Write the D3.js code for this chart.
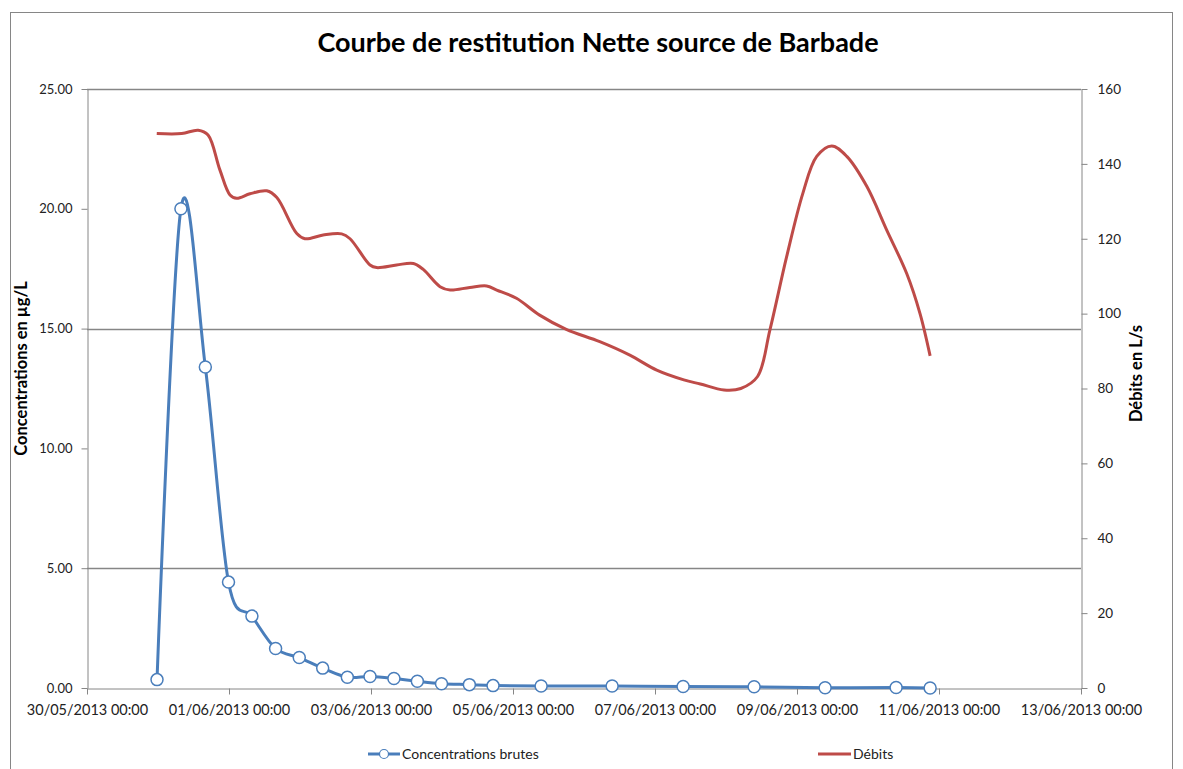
<!DOCTYPE html>
<html>
<head>
<meta charset="utf-8">
<script src="https://cdn.jsdelivr.net/npm/d3@7"></script>
<style>
  body { margin: 0; background: #fff; }
  text { font-family: Lato, "Open Sans", sans-serif; }
</style>
</head>
<body>
<svg width="1183" height="769"></svg>
<script>
const concDates = ['2013-05-30T23:40', '2013-05-31T07:45', '2013-05-31T16:00', '2013-05-31T23:50',
  '2013-06-01T07:45', '2013-06-01T15:45', '2013-06-01T23:45', '2013-06-02T07:40', '2013-06-02T16:00',
  '2013-06-02T23:40', '2013-06-03T07:45', '2013-06-03T15:40', '2013-06-03T23:50', '2013-06-04T09:15',
  '2013-06-04T17:15', '2013-06-05T09:30', '2013-06-06T09:30', '2013-06-07T09:30', '2013-06-08T09:30',
  '2013-06-09T09:30', '2013-06-10T09:30', '2013-06-10T21:00']
const concValues = [0.35, 20.0, 13.4, 4.42, 3.0, 1.65, 1.27, 0.83, 0.45, 0.48, 0.40, 0.28, 0.18, 0.14,
  0.10, 0.08, 0.08, 0.06, 0.05, 0.01, 0.02, 0.0]

const debitDates = ['2013-05-30T23:35', '2013-05-31T08:00', '2013-05-31T13:35', '2013-05-31T16:55',
  '2013-05-31T20:55', '2013-06-01T00:20', '2013-06-01T02:35', '2013-06-01T07:05', '2013-06-01T12:45',
  '2013-06-01T16:10', '2013-06-01T22:55', '2013-06-02T01:40', '2013-06-02T07:50', '2013-06-02T14:05',
  '2013-06-02T16:55', '2013-06-02T23:40', '2013-06-03T01:55', '2013-06-03T08:40', '2013-06-03T14:20',
  '2013-06-03T17:40', '2013-06-03T23:20', '2013-06-04T02:45', '2013-06-04T09:25', '2013-06-04T15:05',
  '2013-06-04T18:30', '2013-06-05T01:10', '2013-06-05T09:00', '2013-06-05T18:00', '2013-06-06T05:20',
  '2013-06-06T15:30', '2013-06-07T00:35', '2013-06-07T09:45', '2013-06-07T15:20', '2013-06-07T23:20',
  '2013-06-08T05:00', '2013-06-08T10:40', '2013-06-08T14:50', '2013-06-08T20:30', '2013-06-09T02:00',
  '2013-06-09T06:40', '2013-06-09T11:45', '2013-06-09T16:50', '2013-06-09T23:35', '2013-06-10T06:20',
  '2013-06-10T13:05', '2013-06-10T17:35', '2013-06-10T21:00']
const debitValues = [148.1, 148.1, 149.0, 147.7, 138.4, 131.7, 130.8, 132.0, 132.8, 131.0,
  121.4, 120.0, 121.0, 121.3, 120.0, 113.0, 112.3, 113.0, 113.4, 111.8,
  107.2, 106.3, 107.0, 107.4, 106.3, 104.1, 99.6, 95.8, 92.5, 88.9,
  84.9, 82.3, 81.2, 79.6, 80.0, 83.2, 95.6, 115.2, 132.2,
  142.0, 144.8, 142.0, 134.0, 122.3, 110.7, 100.0, 88.7]

const xTickDates = ['2013-05-30', '2013-06-01', '2013-06-03', '2013-06-05', '2013-06-07',
  '2013-06-09', '2013-06-11', '2013-06-13']
const leftTicks = [0, 5, 10, 15, 20, 25]
const rightTicks = [0, 20, 40, 60, 80, 100, 120, 140, 160]
const gridValues = [5, 15, 25]

const parse = d3.utcParse('%Y-%m-%dT%H:%M')
const parseDay = d3.utcParse('%Y-%m-%d')

const svg = d3.select('svg')
const axisColor = '#868686'
const blue = '#4A7EBB'
const red = '#BE4B48'

const plotLeft = 87, plotRight = 1081, plotTop = 89, plotBottom = 688

const x = d3.scaleUtc()
  .domain([parseDay('2013-05-30'), parseDay('2013-06-13')])
  .range([plotLeft, plotRight])
const yL = d3.scaleLinear().domain([0, 25]).range([plotBottom, plotTop])
const yR = d3.scaleLinear().domain([0, 160]).range([plotBottom, plotTop])

// chart border
svg.append('rect')
  .attr('x', 10.5).attr('y', 12.5)
  .attr('width', 1162).attr('height', 780)
  .attr('fill', 'none')
  .attr('stroke', axisColor)

// title
svg.append('text')
  .attr('x', 598).attr('y', 52)
  .attr('text-anchor', 'middle')
  .attr('font-size', 27).attr('font-weight', 'bold')
  .attr('fill', '#000')
  .text('Courbe de restitution Nette source de Barbade')

// gridlines
svg.append('g').selectAll('line')
  .data(gridValues)
  .join('line')
  .attr('x1', plotLeft).attr('x2', plotRight)
  .attr('y1', d => Math.round(yL(d)) + 0.5).attr('y2', d => Math.round(yL(d)) + 0.5)
  .attr('stroke', axisColor).attr('stroke-width', 1.3)

// axes
const styleAxis = (g, size) => {
  g.select('.domain').attr('stroke', axisColor)
  g.selectAll('.tick line').attr('stroke', axisColor)
  g.selectAll('.tick text').attr('fill', '#222').attr('font-size', size)
    .attr('font-family', 'Lato, "Open Sans", sans-serif')
}

svg.append('g')
  .attr('transform', `translate(${plotLeft + 0.5},0)`)
  .call(d3.axisLeft(yL).tickValues(leftTicks).tickFormat(d3.format('.2f')).tickSize(6).tickSizeOuter(0).tickPadding(9))
  .call(styleAxis, 13)

svg.append('g')
  .attr('transform', `translate(${plotRight + 0.5},0)`)
  .call(d3.axisRight(yR).tickValues(rightTicks).tickSize(6).tickSizeOuter(0).tickPadding(10))
  .call(styleAxis, 13.5)

svg.append('g')
  .attr('transform', `translate(0,${plotBottom + 0.5})`)
  .call(d3.axisBottom(x).tickValues(xTickDates.map(parseDay))
    .tickFormat(d3.utcFormat('%d/%m/%Y %H:%M')).tickSize(6).tickSizeOuter(0).tickPadding(10))
  .call(styleAxis, 14.5)

// axis titles
svg.append('text')
  .attr('transform', `translate(27,${(plotTop + plotBottom) / 2 - 20}) rotate(-90)`)
  .attr('text-anchor', 'middle')
  .attr('font-size', 16.5).attr('font-weight', 'bold')
  .text('Concentrations en µg/L')

svg.append('text')
  .attr('transform', `translate(1142,${(plotTop + plotBottom) / 2 - 15}) rotate(-90)`)
  .attr('text-anchor', 'middle')
  .attr('font-size', 16.5).attr('font-weight', 'bold')
  .text('Débits en L/s')

// débits line
const debit = debitDates.map((d, i) => ({ date: parse(d), value: debitValues[i] }))
svg.append('path')
  .datum(debit)
  .attr('fill', 'none')
  .attr('stroke', red)
  .attr('stroke-width', 3)
  .attr('d', d3.line().x(d => x(d.date)).y(d => yR(d.value)).curve(d3.curveCatmullRom.alpha(0.5)))

// concentrations line + markers
const conc = concDates.map((d, i) => ({ date: parse(d), value: concValues[i] }))
svg.append('path')
  .datum(conc)
  .attr('fill', 'none')
  .attr('stroke', blue)
  .attr('stroke-width', 3)
  .attr('d', d3.line().x(d => x(d.date)).y(d => yL(d.value)).curve(d3.curveCardinal.tension(0)))

svg.append('g').selectAll('circle')
  .data(conc)
  .join('circle')
  .attr('cx', d => x(d.date))
  .attr('cy', d => yL(d.value))
  .attr('r', 6)
  .attr('fill', '#fff')
  .attr('stroke', blue)
  .attr('stroke-width', 1.5)

// legend
const legend = svg.append('g').attr('transform', 'translate(0,754)')
legend.append('line').attr('x1', 368).attr('x2', 400).attr('stroke', blue).attr('stroke-width', 3)
legend.append('circle').attr('cx', 384).attr('r', 4.5).attr('fill', '#fff').attr('stroke', blue).attr('stroke-width', 1.2)
legend.append('text').attr('x', 402).attr('y', 5).attr('font-size', 14).attr('fill', '#222').text('Concentrations brutes')
legend.append('line').attr('x1', 818).attr('x2', 851).attr('stroke', red).attr('stroke-width', 3)
legend.append('text').attr('x', 853).attr('y', 5).attr('font-size', 14).attr('fill', '#222').text('Débits')
</script>
</body>
</html>
